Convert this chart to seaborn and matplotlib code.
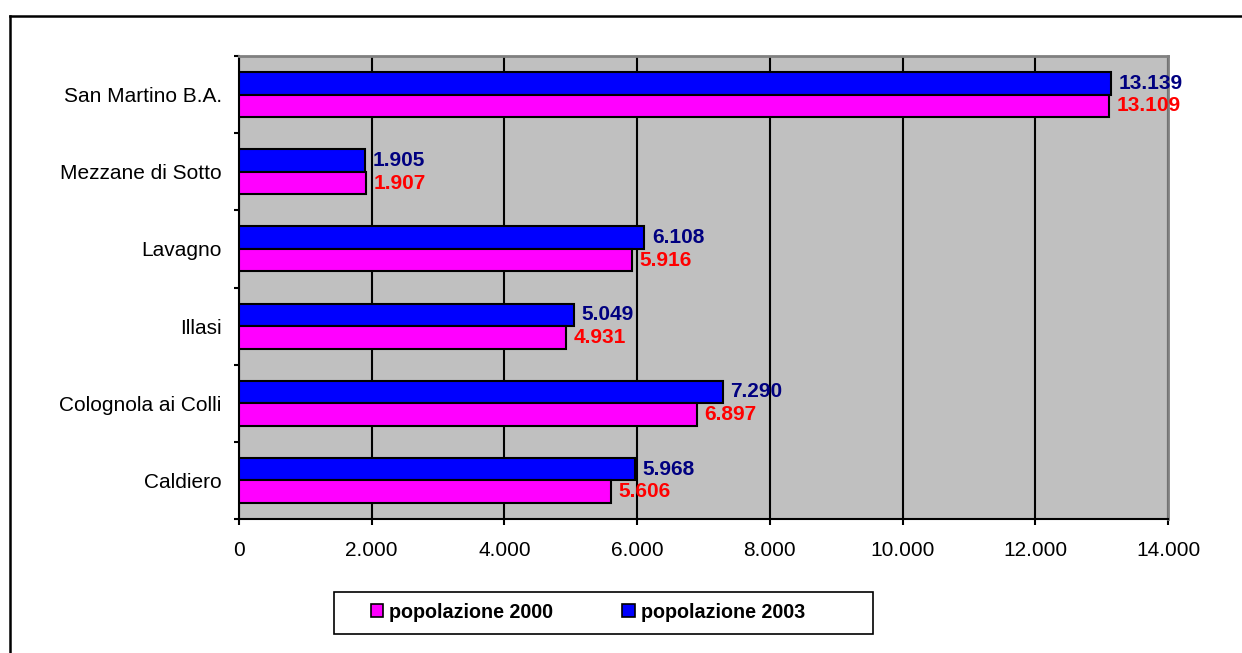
import matplotlib
matplotlib.use("Agg")
import matplotlib.pyplot as plt
from matplotlib.patches import Patch, Rectangle
from matplotlib.lines import Line2D
from matplotlib.ticker import FuncFormatter, FixedLocator
import seaborn as sns
import pandas as pd

# Comuni and resident population
comuni = ["San Martino B.A.", "Mezzane di Sotto", "Lavagno", "Illasi",
          "Colognola ai Colli", "Caldiero"]
pop_2000 = [13109, 1907, 5916, 4931, 6897, 5606]
pop_2003 = [13139, 1905, 6108, 5049, 7290, 5968]
serie = ["popolazione 2000", "popolazione 2003"]
x_ticks = [0, 2000, 4000, 6000, 8000, 10000, 12000, 14000]

colori = {"popolazione 2000": "#FF00FF", "popolazione 2003": "#0000FF"}
colori_etichette = {"popolazione 2000": "#FF0000", "popolazione 2003": "#000080"}

df = pd.DataFrame({
    "comune": comuni * 2,
    "serie": [serie[0]] * len(comuni) + [serie[1]] * len(comuni),
    "valore": pop_2000 + pop_2003,
})

plt.rcParams["font.family"] = ["Liberation Sans", "DejaVu Sans"]

fig = plt.figure(figsize=(12.42, 6.53), dpi=100)
W, H = 1242, 653
ax = fig.add_axes([239 / W, 1 - 519 / H, (1168 - 239) / W, (519 - 56) / H])
ax.set_facecolor("#C0C0C0")

ordine_hue = ["popolazione 2003", "popolazione 2000"]
sns.barplot(data=df, y="comune", x="valore", hue="serie", hue_order=ordine_hue,
            order=comuni, palette=colori, orient="h", width=0.585, gap=0,
            edgecolor="black", linewidth=1.5, saturation=1, legend=False,
            ax=ax, zorder=3)

valori = {"popolazione 2000": pop_2000, "popolazione 2003": pop_2003}
fmt = lambda v: f"{v:,.0f}".replace(",", ".")
for cont, nome in zip(ax.containers, ordine_hue):
    ax.bar_label(cont, labels=[fmt(v) for v in valori[nome]], padding=5.5,
                 color=colori_etichette[nome], fontweight="bold", fontsize=15,
                 zorder=5)

ax.set_xlim(0, 14000)
ax.set_ylim(len(comuni) - 0.5, -0.5)
ax.xaxis.set_major_locator(FixedLocator(x_ticks))
ax.xaxis.set_major_formatter(FuncFormatter(lambda v, p: fmt(v)))
ax.grid(axis="x", color="black", linewidth=1.5, zorder=1)
ax.set_axisbelow(True)
ax.set_xlabel("")
ax.set_ylabel("")

# category labels centred, tick marks on category boundaries
ax.tick_params(axis="y", which="major", length=0, pad=12.5, labelsize=15)
ax.set_yticks([i - 0.5 for i in range(len(comuni) + 1)], minor=True)
ax.tick_params(axis="y", which="minor", length=3.8, width=1.5, direction="out")
ax.tick_params(axis="x", which="major", length=4.5, width=1.5, direction="out",
               pad=11, labelsize=15)

for s in ["left", "bottom"]:
    ax.spines[s].set_color("black")
    ax.spines[s].set_linewidth(1.5)
for s in ["top", "right"]:
    ax.spines[s].set_color("#808080")
    ax.spines[s].set_linewidth(2)

# legend
maniglie = [Patch(facecolor=colori[s], edgecolor="black", linewidth=1.2, label=s)
            for s in serie]
fig.legend(handles=maniglie, loc="center",
           bbox_to_anchor=(588 / W, 1 - 612 / H),
           ncol=2, frameon=False, prop={"weight": "bold", "size": 14.2},
           handlelength=0.65, handleheight=0.65, handletextpad=0.3,
           columnspacing=3.5)
fig.add_artist(Rectangle((334 / W, 1 - 634 / H), (873 - 334) / W, 42 / H,
                         transform=fig.transFigure, fill=False,
                         edgecolor="black", linewidth=1.2))

# outer chart frame
fig.add_artist(Line2D([10 / W, 10 / W], [0, 1 - 15.5 / H], color="black",
                      linewidth=1.8, transform=fig.transFigure))
fig.add_artist(Line2D([10 / W, 1], [1 - 15.5 / H, 1 - 15.5 / H], color="black",
                      linewidth=1.8, transform=fig.transFigure))

fig.savefig("out.png", dpi=100, facecolor="white")
